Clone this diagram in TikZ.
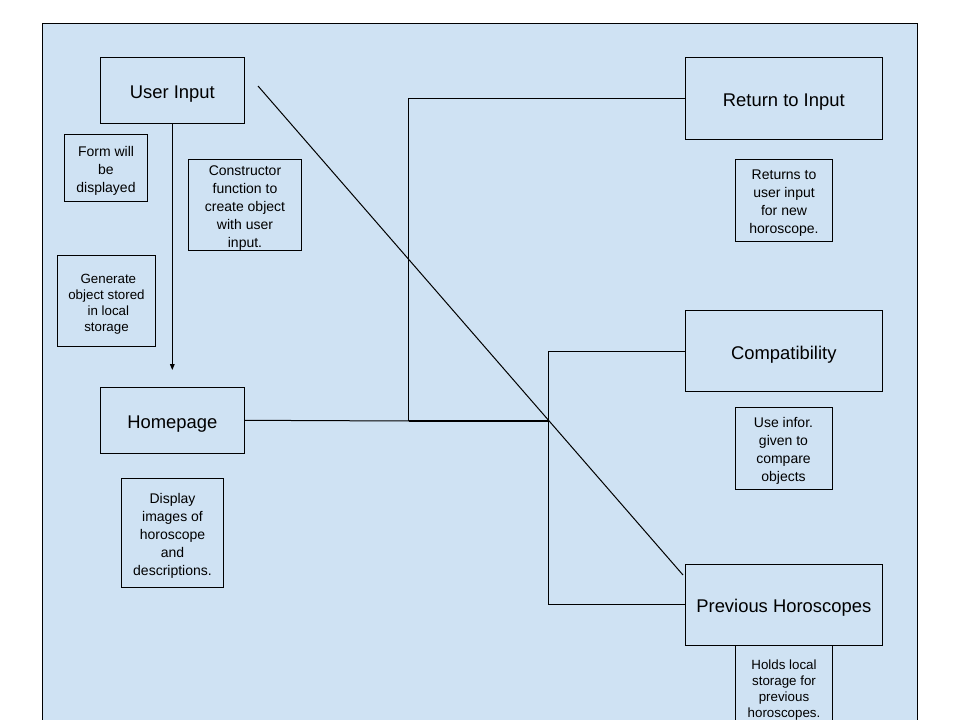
\documentclass[tikz,border=0pt]{standalone}
\usepackage{fontspec}
\setmainfont{Liberation Sans}
\usetikzlibrary{arrows.meta}
\definecolor{bgblue}{RGB}{207,226,243}
\newcommand{\tlift}{\rule{0pt}{11.5pt}}
\tikzset{
  bigbox/.style={draw=black, line width=0.75pt, fill=bgblue, align=center, inner sep=0pt,
    text height=12.2pt, text depth=0pt,
    font=\fontsize{13.8}{16}\selectfont},
  notebox/.style={draw=black, line width=0.75pt, fill=bgblue, align=center, inner sep=0pt,
    font=\fontsize{10.5}{13.5}\selectfont},
  tightnote/.style={notebox, font=\fontsize{10}{12}\selectfont},
  conn/.style={draw=black, line width=0.75pt},
}
\begin{document}
\begin{tikzpicture}[x=0.75pt, y=-0.75pt]
\useasboundingbox (0,0) rectangle (960,720);
\clip (0,0) rectangle (960,720);
\fill[white] (0,0) rectangle (960,720);
\draw[fill=bgblue, line width=0.75pt] (42.3,23.3) rectangle (917.5,760);

% left column
\node[bigbox, minimum width=108pt, minimum height=49.5pt] (ui) at (172.3,90.3) {User Input};
\node[notebox, minimum width=62.5pt, minimum height=50.5pt] (form) at (106,168) {\tlift Form will\\be\\displayed};
\node[notebox, minimum width=85pt, minimum height=68.25pt] (cons) at (245,204.8) {\tlift Constructor\\function to\\create object\\with user\\input.};
\node[tightnote, minimum width=73.8pt, minimum height=68.5pt] (gen) at (106.5,301) {\tlift\ Generate\\object stored\\\ in local\\storage};
\node[bigbox, minimum width=108pt, minimum height=49.5pt] (hp) at (172.3,420.3) {Homepage};
\node[notebox, minimum width=76.8pt, minimum height=81.75pt] (disp) at (172.5,532.8) {\tlift Display\\images of\\horoscope\\and\\descriptions.};

% right column
\node[bigbox, minimum width=147.75pt, minimum height=61.3pt] (ret) at (783.8,98.2) {Return to Input};
\node[notebox, minimum width=73pt, minimum height=61.5pt] (rets) at (784,200.3) {\tlift Returns to\\user input\\for new\\horoscope.};
\node[bigbox, minimum width=147.75pt, minimum height=60.75pt] (comp) at (783.8,351.2) {Compatibility};
\node[notebox, minimum width=72.75pt, minimum height=61.5pt] (use) at (783.5,448) {\tlift Use infor.\\given to\\compare\\objects};
\node[tightnote, minimum width=72.5pt, minimum height=63pt] (holds) at (784,687) {\tlift Holds local\\storage for\\previous\\horoscopes.};
\node[bigbox, minimum width=147.75pt, minimum height=60.75pt] (prev) at (783.8,604.8) {Previous Horoscopes};

% connectors
\coordinate (arrend) at (172.3,370);
\draw[conn, -{Triangle[length=4.5pt,width=3.5pt]}] (ui.south) -- (arrend);

\coordinate (j1) at (408.5,421);
\coordinate (j2) at (548.3,421);
\draw[conn] (hp.east) -- (j1);
\draw[draw=black, line width=1.5pt] (j1) -- (j2);
\draw[conn] (j1) |- (ret.west);
\draw[conn] (j2) |- (comp.west);
\draw[conn] (j2) |- (prev.west);

\coordinate (d1) at (258,86);
\coordinate (d2) at (683,575);
\draw[conn] (d1) -- (d2);
\end{tikzpicture}
\end{document}
